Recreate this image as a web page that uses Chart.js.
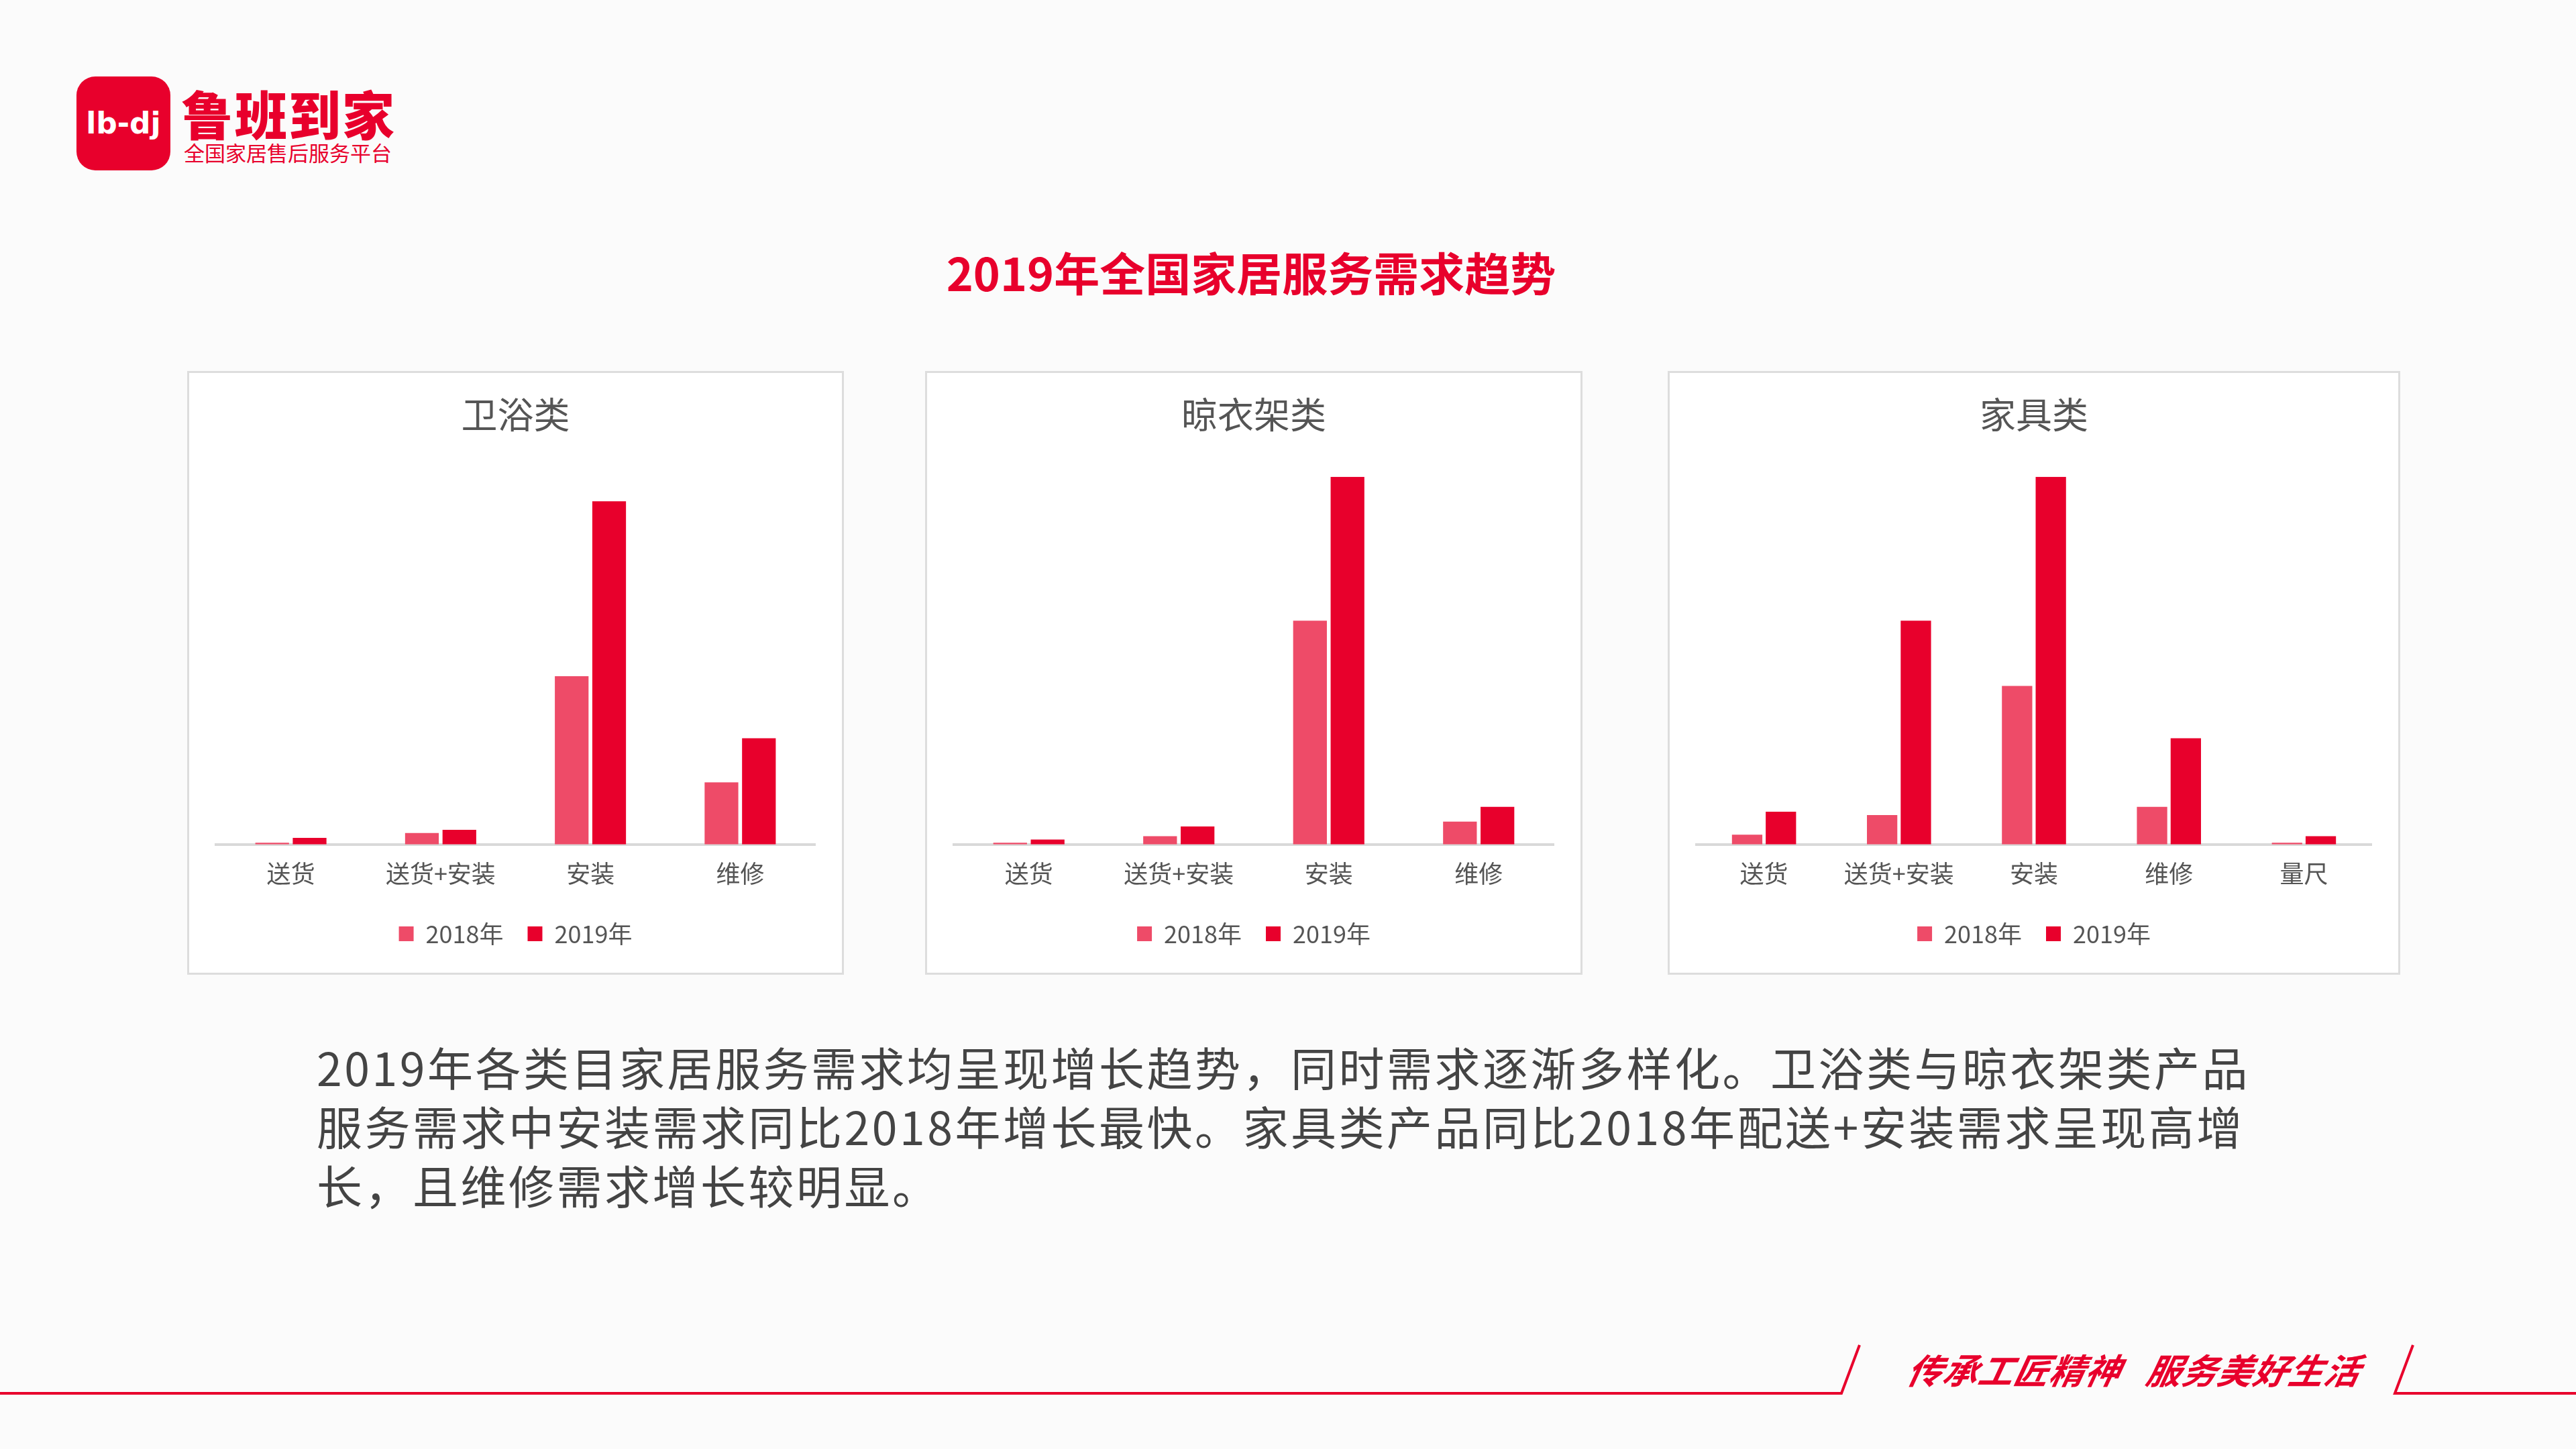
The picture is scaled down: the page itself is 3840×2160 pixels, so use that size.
<!DOCTYPE html>
<html><head><meta charset="utf-8">
<script src="https://cdn.jsdelivr.net/npm/chart.js@4"></script>
<style>
body{margin:0;width:3840px;height:2160px;background:#fbfbfb;font-family:"Noto Sans CJK SC",sans-serif;position:relative;overflow:hidden}
.panel{position:absolute;top:553px;height:900px;background:#fff;border:3px solid #ddd;box-sizing:border-box}
.abs{position:absolute}
</style></head><body>
<div class="abs" style="left:114px;top:114px;width:140px;height:140px;background:#e8002c;border-radius:28px;color:#fff;font:bold 44px 'DejaVu Sans';text-align:center;line-height:140px">lb-dj</div>
<div class="abs" style="left:270px;top:112px;font:900 78px 'Noto Sans CJK SC';color:#e8002c;letter-spacing:2px">鲁班到家</div>
<div class="abs" style="left:274px;top:204px;font:31px 'Noto Sans CJK SC';color:#e8002c">全国家居售后服务平台</div>
<div class="abs" style="left:0;width:3730px;top:355px;text-align:center;font:bold 68px 'Noto Sans CJK SC';color:#e8002c">2019年全国家居服务需求趋势</div>
<div class="panel" style="left:279px;width:979px"><canvas id="c1"></canvas></div>
<div class="panel" style="left:1379px;width:980px"><canvas id="c2"></canvas></div>
<div class="panel" style="left:2486px;width:1092px"><canvas id="c3"></canvas></div>
<div class="abs" style="left:472px;top:1546px;width:2900px;font:68px 'Noto Sans CJK SC';color:#444;line-height:88px;letter-spacing:3.5px">2019年各类目家居服务需求均呈现增长趋势，同时需求逐渐多样化。卫浴类与晾衣架类产品服务需求中安装需求同比2018年增长最快。家具类产品同比2018年配送+安装需求呈现高增长，且维修需求增长较明显。</div>
<svg class="abs" style="left:0;top:0" width="3840" height="2160">
<polyline points="0,2077 2745,2077 2772,2005" fill="none" stroke="#e8002c" stroke-width="4"/>
<polyline points="3597,2005 3570,2077 3840,2077" fill="none" stroke="#e8002c" stroke-width="4"/>
</svg>
<div class="abs" style="left:2845px;top:2003px;font:italic bold 52px 'Noto Sans CJK SC';color:#e8002c;transform:skewX(-12deg);letter-spacing:1px">传承工匠精神&nbsp;&nbsp;&nbsp;服务美好生活</div>
<script>
const years=['2018年','2019年'];
const cat1=['送货','送货+安装','安装','维修'];
const a18=[1,7,103,38], a19=[4,9,210,65];
const cat2=['送货','送货+安装','安装','维修'];
const b18=[1,5,137,14], b19=[3,11,225,23];
const cat3=['送货','送货+安装','安装','维修','量尺'];
const c18=[6,18,97,23,1], c19=[20,137,225,65,5];
const col=['#ee4b68','#e8002c'];
function mk(id,title,cats,d1,d2){
 new Chart(document.getElementById(id),{type:'bar',
 data:{labels:cats,datasets:[{label:years[0],data:d1,backgroundColor:col[0]},{label:years[1],data:d2,backgroundColor:col[1]}]},
 options:{responsive:true,maintainAspectRatio:false,animation:false,
  layout:{padding:{left:40,right:40,top:20,bottom:30}},
  datasets:{bar:{categoryPercentage:0.5,barPercentage:0.9}},
  plugins:{title:{display:true,text:title,color:'#555',font:{size:54,family:'Noto Sans CJK SC',weight:'normal'},padding:{top:10,bottom:60}},
   legend:{position:'bottom',labels:{color:'#555',font:{size:36,family:'Noto Sans CJK SC'},boxWidth:22,boxHeight:22,padding:36}},tooltip:{enabled:false}},
  scales:{x:{grid:{display:false},border:{color:'#d9d9d9',width:4},ticks:{color:'#555',font:{size:36,family:'Noto Sans CJK SC'},padding:14}},
   y:{display:false,min:0,max:225}}}});
}
mk('c1','卫浴类',cat1,a18,a19);
mk('c2','晾衣架类',cat2,b18,b19);
mk('c3','家具类',cat3,c18,c19);
</script></body></html>
